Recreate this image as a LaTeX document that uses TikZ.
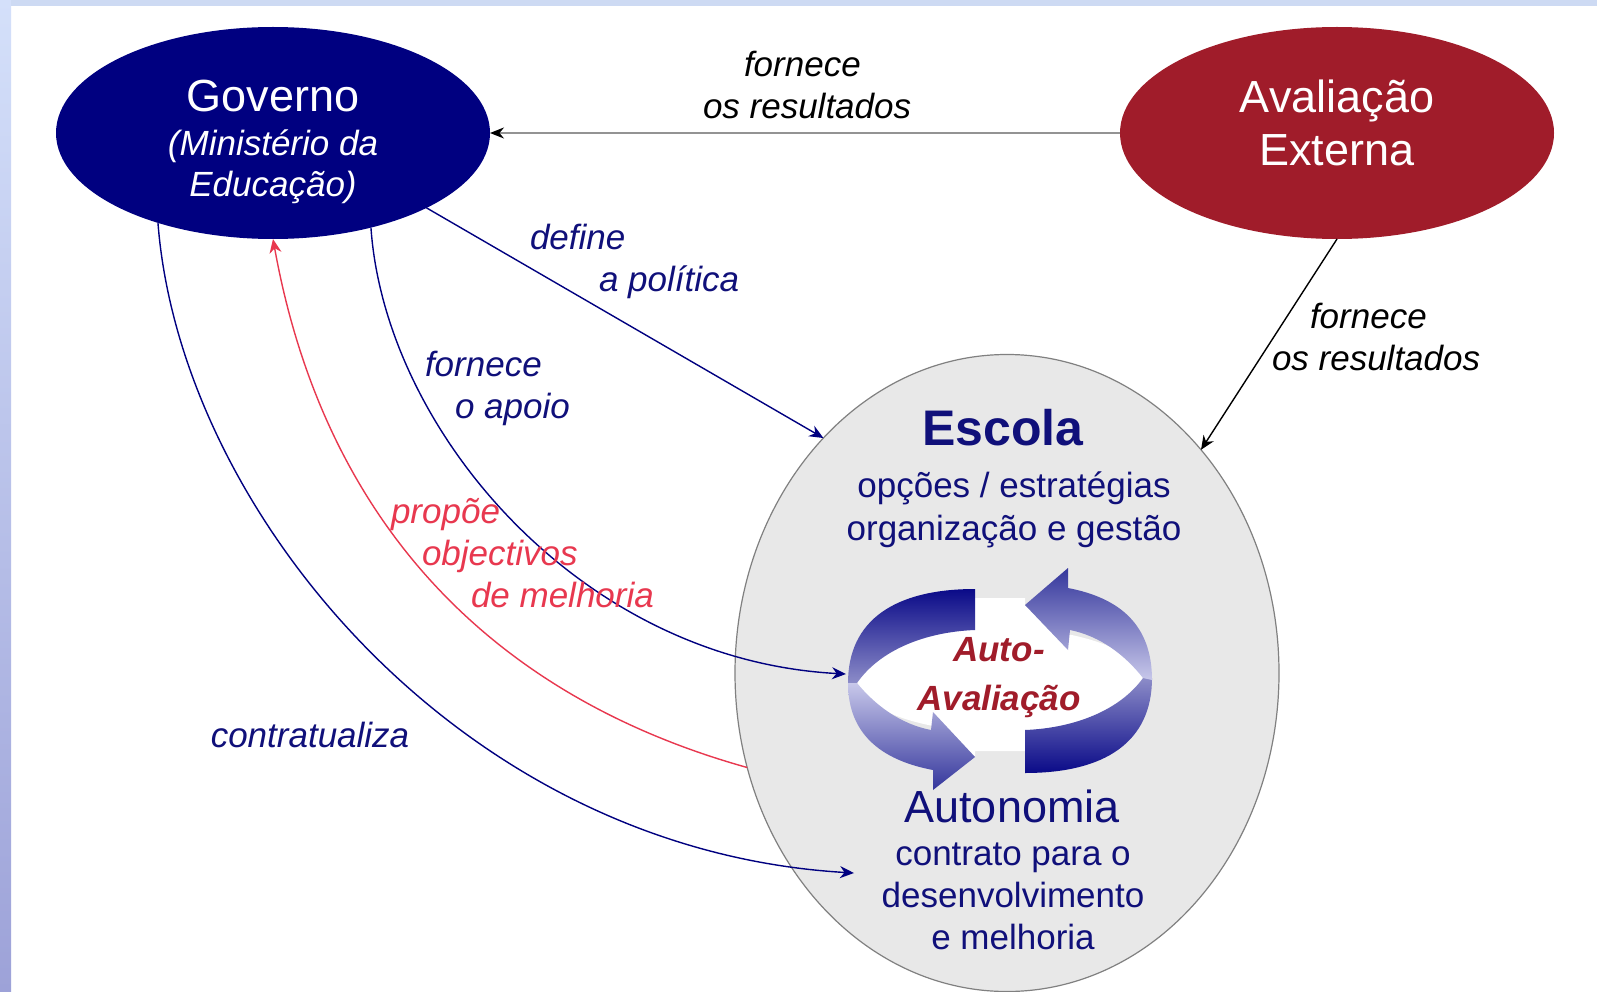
\documentclass[tikz,border=0pt]{standalone}
\usepackage{fontspec}
\setmainfont{Liberation Sans}
\usetikzlibrary{shapes.geometric,arrows.meta}
\definecolor{govnavy}{HTML}{000080}
\definecolor{avalred}{HTML}{A01C2A}
\definecolor{propred}{HTML}{E8384F}
\definecolor{textnavy}{HTML}{10107A}
\definecolor{schoolgrey}{HTML}{E8E8E8}
\definecolor{stripA}{HTML}{D4E0FA}
\definecolor{stripB}{HTML}{9DA2D8}
\definecolor{stripT}{HTML}{CDDAF3}
\definecolor{cycDark}{HTML}{0A0A88}
\definecolor{cycMid}{HTML}{8C8CC8}
\definecolor{cycPale}{HTML}{C8C8EA}
\definecolor{cycHead}{HTML}{34369C}
\newcommand{\fsz}[2]{\fontsize{#1}{#2}\selectfont}
\tikzset{
  x=1pt, y=-1pt,
  every node/.style={inner sep=0pt, outer sep=0pt},
  actor/.style={ellipse, minimum width=434pt, minimum height=212pt},
  actortext/.style={text=white, align=center},
  school/.style={ellipse, draw=gray, line width=1.2pt, fill=schoolgrey, minimum width=544pt, minimum height=637pt},
  flowlabel/.style={font=\itshape\fsz{35}{42}, align=left},
  schooltext/.style={text=textnavy, align=center, font=\fsz{35}{43}},
  link/.style={line width=1.4pt, -{Stealth[length=14pt,width=12pt]}},
}
\begin{document}
\begin{tikzpicture}
\useasboundingbox (0,0) rectangle (1597,992);
% page frame strips
\fill[white] (0,0) rectangle (1597,992);
\fill[stripT] (0,0) rectangle (1597,6);
\shade[top color=stripA, bottom color=stripB] (0,0) rectangle (11,992);

% main actors
\node[actor, fill=govnavy] (gov) at (273,133) {};
\node[actor, fill=avalred] (aval) at (1337,133) {};
\node[school] (esc) at (1007,673) {};

% anchor points for curved flows inside the school
\coordinate (cycleIn) at (846,674);
\coordinate (contractIn) at (854,873);

% flows between actors
\draw[link, line width=2pt, draw=gray!85, -{Stealth[length=14pt,width=11pt,black]}] (aval.west) -- (gov.east);
\draw[link, draw=govnavy] (gov.-26) -- (esc.128);
\draw[link, draw=black] (aval.south) -- (esc.49.5);
\draw[link, draw=govnavy] (gov.-44) .. controls (385,430) and (580,660) .. (cycleIn);
\draw[link, draw=govnavy] (gov.-142.4) .. controls (180,510) and (460,850) .. (contractIn);
\draw[link, draw=propred] (esc.-160.4) .. controls (470,690) and (320,500) .. (gov.south);

% self-assessment cycle: white core
\fill[white] (1000,680) ellipse [x radius=143pt, y radius=52pt];
\fill[white] (975,598) -- (1025,598) -- (1025,605) -- (1068,650) -- (1068,680) -- (1025,751) -- (975,751) -- (975,757) -- (933,712) -- (933,680) -- cycle;
% upper-left band
\shade[top color=cycDark, bottom color=cycMid]
  (848,683) .. controls (848,620) and (895,589) .. (975,589) -- (975,630)
  .. controls (925,632) and (880,650) .. (857,683) -- cycle;
% lower-right band
\shade[top color=cycMid, bottom color=cycDark]
  (1152,678) .. controls (1152,742) and (1105,773) .. (1025,773) -- (1025,730)
  .. controls (1075,728) and (1120,710) .. (1143,678) -- cycle;
% upper-right arrow
\shade[top color=cycHead, bottom color=cycPale]
  (1152,680) .. controls (1152,625) and (1120,598) .. (1068,588) -- (1068,568)
  -- (1025,605) -- (1068,650) -- (1070,630)
  .. controls (1100,636) and (1125,655) .. (1143,678) -- cycle;
% lower-left arrow
\shade[top color=cycPale, bottom color=cycHead]
  (848,683) .. controls (848,733) and (880,760) .. (933,770) -- (933,790)
  -- (975,757) -- (933,712) -- (931,730)
  .. controls (900,724) and (875,705) .. (857,683) -- cycle;

% text
\node[actortext, font=\fsz{45}{45}] (govT) at (273,96) {Governo};
\node[actortext, font=\itshape\fsz{35}{41}] (govS) at (273,167) {(Ministério da\\Educação)};
\node[actortext, font=\fsz{45}{53}] (avalT) at (1337,123) {Avaliação\\Externa};

\node[flowlabel, anchor=west] (l1) at (703,85) {\hspace*{41pt}fornece\\os resultados};
\node[flowlabel, anchor=west] (l2) at (1272,337) {\hspace*{38pt}fornece\\os resultados};
\node[flowlabel, text=textnavy, anchor=west] (l3) at (530,261) {define\\\hspace*{69pt}a política};
\node[flowlabel, text=textnavy, anchor=west] (l4) at (425,388) {fornece\\\hspace*{30pt}o apoio};
\node[flowlabel, text=propred, anchor=west] (l5) at (391,553) {propõe\\\hspace*{31pt}objectivos\\\hspace*{80pt}de melhoria};
\node[flowlabel, text=textnavy] (l6) at (310,735) {contratualiza};

\node[text=textnavy, font=\bfseries\fsz{50}{50}] (escT) at (1003,428) {Escola};
\node[schooltext] (escS) at (1014,510) {opções / estratégias\\organização e gestão};
\node[text=avalred, align=center, font=\bfseries\itshape\fsz{35}{49}] (autoT) at (999,678) {Auto-\\Avaliação};
\node[text=textnavy, font=\fsz{45}{45}] (autT) at (1012,806) {Autonomia};
\node[schooltext, font=\fsz{35}{42}] (autS) at (1013,896) {contrato para o\\desenvolvimento\\e melhoria};
\end{tikzpicture}
\end{document}
